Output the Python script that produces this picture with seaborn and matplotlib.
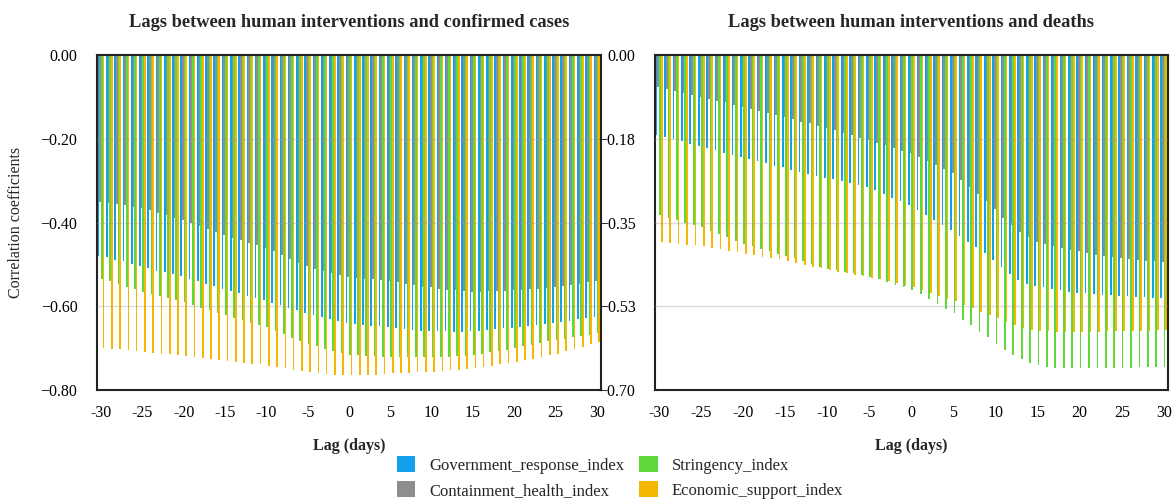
import numpy as np
import pandas as pd
import seaborn as sns
import matplotlib.pyplot as plt
from matplotlib.patches import Patch

# === DATA ===
lags = list(range(-30, 31))
series_names = ["Government_response_index", "Containment_health_index",
                "Stringency_index", "Economic_support_index"]
palette = ["#12a0ec", "#8e8e8e", "#5fd83a", "#f6b700"]

# lags vs confirmed cases
cases_gov = [-0.480, -0.483, -0.489, -0.492, -0.498, -0.504, -0.509, -0.515, -0.519, -0.523,
             -0.528, -0.535, -0.540, -0.546, -0.552, -0.558, -0.563, -0.569, -0.575, -0.580,
             -0.585, -0.591, -0.597, -0.603, -0.609, -0.615, -0.620, -0.625, -0.630, -0.635,
             -0.640, -0.642, -0.644, -0.646, -0.648, -0.650, -0.652, -0.654, -0.656, -0.658,
             -0.659, -0.660, -0.660, -0.661, -0.661, -0.660, -0.659, -0.657, -0.655, -0.653,
             -0.651, -0.649, -0.647, -0.645, -0.643, -0.640, -0.637, -0.634, -0.631, -0.628,
             -0.625]
cases_cont = [-0.350, -0.353, -0.356, -0.359, -0.362, -0.366, -0.371, -0.377, -0.382, -0.388,
              -0.394, -0.401, -0.408, -0.415, -0.423, -0.430, -0.436, -0.442, -0.448, -0.454,
              -0.460, -0.469, -0.478, -0.487, -0.496, -0.505, -0.510, -0.515, -0.520, -0.525,
              -0.530, -0.532, -0.534, -0.536, -0.538, -0.540, -0.543, -0.547, -0.550, -0.553,
              -0.555, -0.558, -0.560, -0.562, -0.564, -0.565, -0.565, -0.564, -0.564, -0.563,
              -0.562, -0.561, -0.559, -0.558, -0.556, -0.555, -0.552, -0.549, -0.546, -0.543,
              -0.540]
cases_str = [-0.535, -0.540, -0.547, -0.553, -0.559, -0.565, -0.570, -0.575, -0.580, -0.585,
             -0.590, -0.596, -0.603, -0.609, -0.615, -0.621, -0.627, -0.633, -0.639, -0.645,
             -0.650, -0.658, -0.667, -0.675, -0.683, -0.690, -0.696, -0.701, -0.706, -0.711,
             -0.716, -0.717, -0.718, -0.719, -0.720, -0.720, -0.721, -0.722, -0.722, -0.722,
             -0.722, -0.721, -0.720, -0.719, -0.718, -0.716, -0.713, -0.710, -0.707, -0.704,
             -0.700, -0.696, -0.692, -0.688, -0.684, -0.680, -0.677, -0.674, -0.671, -0.668,
             -0.665]
cases_econ = [-0.700, -0.701, -0.703, -0.705, -0.707, -0.709, -0.711, -0.713, -0.715, -0.717,
              -0.719, -0.721, -0.724, -0.726, -0.729, -0.731, -0.733, -0.735, -0.737, -0.739,
              -0.742, -0.745, -0.748, -0.751, -0.754, -0.757, -0.759, -0.761, -0.763, -0.764,
              -0.765, -0.765, -0.764, -0.763, -0.762, -0.760, -0.760, -0.759, -0.758, -0.757,
              -0.756, -0.754, -0.753, -0.751, -0.750, -0.748, -0.745, -0.742, -0.739, -0.736,
              -0.733, -0.729, -0.725, -0.721, -0.717, -0.713, -0.708, -0.702, -0.697, -0.691,
              -0.685]

# lags vs deaths
deaths_gov = [-0.167, -0.171, -0.176, -0.180, -0.185, -0.190, -0.194, -0.199, -0.204, -0.208,
              -0.213, -0.217, -0.222, -0.226, -0.231, -0.235, -0.240, -0.244, -0.248, -0.253,
              -0.257, -0.260, -0.264, -0.267, -0.271, -0.275, -0.282, -0.290, -0.298, -0.305,
              -0.313, -0.323, -0.334, -0.345, -0.355, -0.366, -0.378, -0.390, -0.402, -0.414,
              -0.428, -0.443, -0.458, -0.470, -0.478, -0.482, -0.485, -0.488, -0.492, -0.495,
              -0.497, -0.498, -0.499, -0.501, -0.502, -0.503, -0.504, -0.505, -0.506, -0.507,
              -0.508]
deaths_cont = [-0.067, -0.071, -0.075, -0.079, -0.083, -0.087, -0.091, -0.095, -0.099, -0.104,
               -0.108, -0.112, -0.117, -0.121, -0.126, -0.130, -0.134, -0.139, -0.143, -0.148,
               -0.152, -0.157, -0.162, -0.167, -0.173, -0.178, -0.183, -0.189, -0.194, -0.200,
               -0.205, -0.213, -0.221, -0.230, -0.238, -0.247, -0.261, -0.275, -0.290, -0.305,
               -0.322, -0.340, -0.355, -0.370, -0.380, -0.390, -0.395, -0.400, -0.404, -0.407,
               -0.410, -0.414, -0.417, -0.420, -0.422, -0.425, -0.427, -0.428, -0.430, -0.431,
               -0.432]
deaths_str = [-0.335, -0.340, -0.345, -0.350, -0.355, -0.360, -0.367, -0.374, -0.381, -0.388,
              -0.395, -0.400, -0.405, -0.410, -0.415, -0.420, -0.425, -0.431, -0.436, -0.442,
              -0.447, -0.450, -0.453, -0.456, -0.460, -0.463, -0.468, -0.474, -0.480, -0.485,
              -0.491, -0.500, -0.510, -0.520, -0.530, -0.540, -0.553, -0.565, -0.578, -0.590,
              -0.603, -0.616, -0.626, -0.636, -0.644, -0.648, -0.651, -0.653, -0.654, -0.655,
              -0.655, -0.655, -0.655, -0.654, -0.654, -0.653, -0.653, -0.652, -0.652, -0.651,
              -0.651]
deaths_econ = [-0.390, -0.392, -0.394, -0.396, -0.398, -0.400, -0.403, -0.406, -0.409, -0.412,
               -0.415, -0.418, -0.421, -0.424, -0.427, -0.430, -0.434, -0.438, -0.442, -0.446,
               -0.450, -0.453, -0.456, -0.459, -0.462, -0.465, -0.469, -0.473, -0.477, -0.481,
               -0.485, -0.491, -0.497, -0.503, -0.509, -0.515, -0.522, -0.529, -0.536, -0.543,
               -0.550, -0.557, -0.564, -0.570, -0.574, -0.577, -0.577, -0.578, -0.578, -0.578,
               -0.578, -0.578, -0.578, -0.577, -0.577, -0.577, -0.577, -0.576, -0.576, -0.575,
               -0.575]

xtick_labels = ["-30", "-25", "-20", "-15", "-10", "-5", "0", "5", "10", "15", "20", "25", "30"]
cases_yticks = [0.0, -0.2, -0.4, -0.6, -0.8]
cases_ylabels = ["0.00", "\u22120.20", "\u22120.40", "\u22120.60", "\u22120.80"]
deaths_yticks = [0.0, -0.175, -0.35, -0.525, -0.7]
deaths_ylabels = ["0.00", "\u22120.18", "\u22120.35", "\u22120.53", "\u22120.70"]


def long_frame(values):
    df = pd.DataFrame(dict(zip(series_names, values)))
    df["lag"] = lags
    return df.melt(id_vars="lag", var_name="index", value_name="corr")


# === STYLE ===
sns.set_theme(style="white")
plt.rcParams["font.family"] = ["Liberation Serif", "DejaVu Serif"]

fig = plt.figure(figsize=(11.74, 4.99), dpi=100)
ax1 = fig.add_axes([0.0826, 0.2184, 0.4293, 0.6713])
ax2 = fig.add_axes([0.5579, 0.2184, 0.4370, 0.6713])

panels = [
    (ax1, [cases_gov, cases_cont, cases_str, cases_econ],
     "Lags between human interventions and confirmed cases", cases_yticks, cases_ylabels),
    (ax2, [deaths_gov, deaths_cont, deaths_str, deaths_econ],
     "Lags between human interventions and deaths", deaths_yticks, deaths_ylabels),
]

for ax, vals, title, yticks, ylabels in panels:
    sns.barplot(data=long_frame(vals), x="lag", y="corr", hue="index",
                hue_order=series_names, palette=palette, width=0.8,
                linewidth=0, errorbar=None, legend=False, saturation=1, ax=ax)
    ax.set_ylim(yticks[-1], 0)
    ax.set_xlim(-0.5, len(lags) - 0.5)
    ax.set_yticks(yticks)
    ax.set_yticklabels(ylabels)
    ax.set_xticks(range(0, len(lags), 5))
    ax.set_xticklabels(xtick_labels)
    # faint grid lines show through the bars
    for t in yticks[1:-1]:
        ax.axhline(t, color="#9a9a9a", alpha=0.35, linewidth=1, zorder=5)
    ax.tick_params(axis="both", length=0, labelsize=11.5, colors="black")
    ax.tick_params(axis="y", pad=14)
    ax.tick_params(axis="x", pad=11)
    for sp in ax.spines.values():
        sp.set_visible(True)
        sp.set_color("#222222")
        sp.set_linewidth(1.5)
    ax.set_title(title, fontsize=13.2, fontweight="bold", pad=20)
    ax.set_xlabel("Lag (days)", fontsize=11.5, fontweight="bold", labelpad=12)
    ax.set_ylabel("")

ax1.set_ylabel("Correlation coefficients", fontsize=11.5, labelpad=12)

handles = [Patch(facecolor=c, edgecolor="none") for c in palette]
fig.legend(handles, series_names, ncol=2, loc="lower center",
           bbox_to_anchor=(0.528, -0.03), frameon=False, fontsize=12,
           handlelength=1.1, handleheight=1.1, columnspacing=0.9,
           labelspacing=0.45, handletextpad=0.85)

fig.savefig("out.png", dpi=100)
